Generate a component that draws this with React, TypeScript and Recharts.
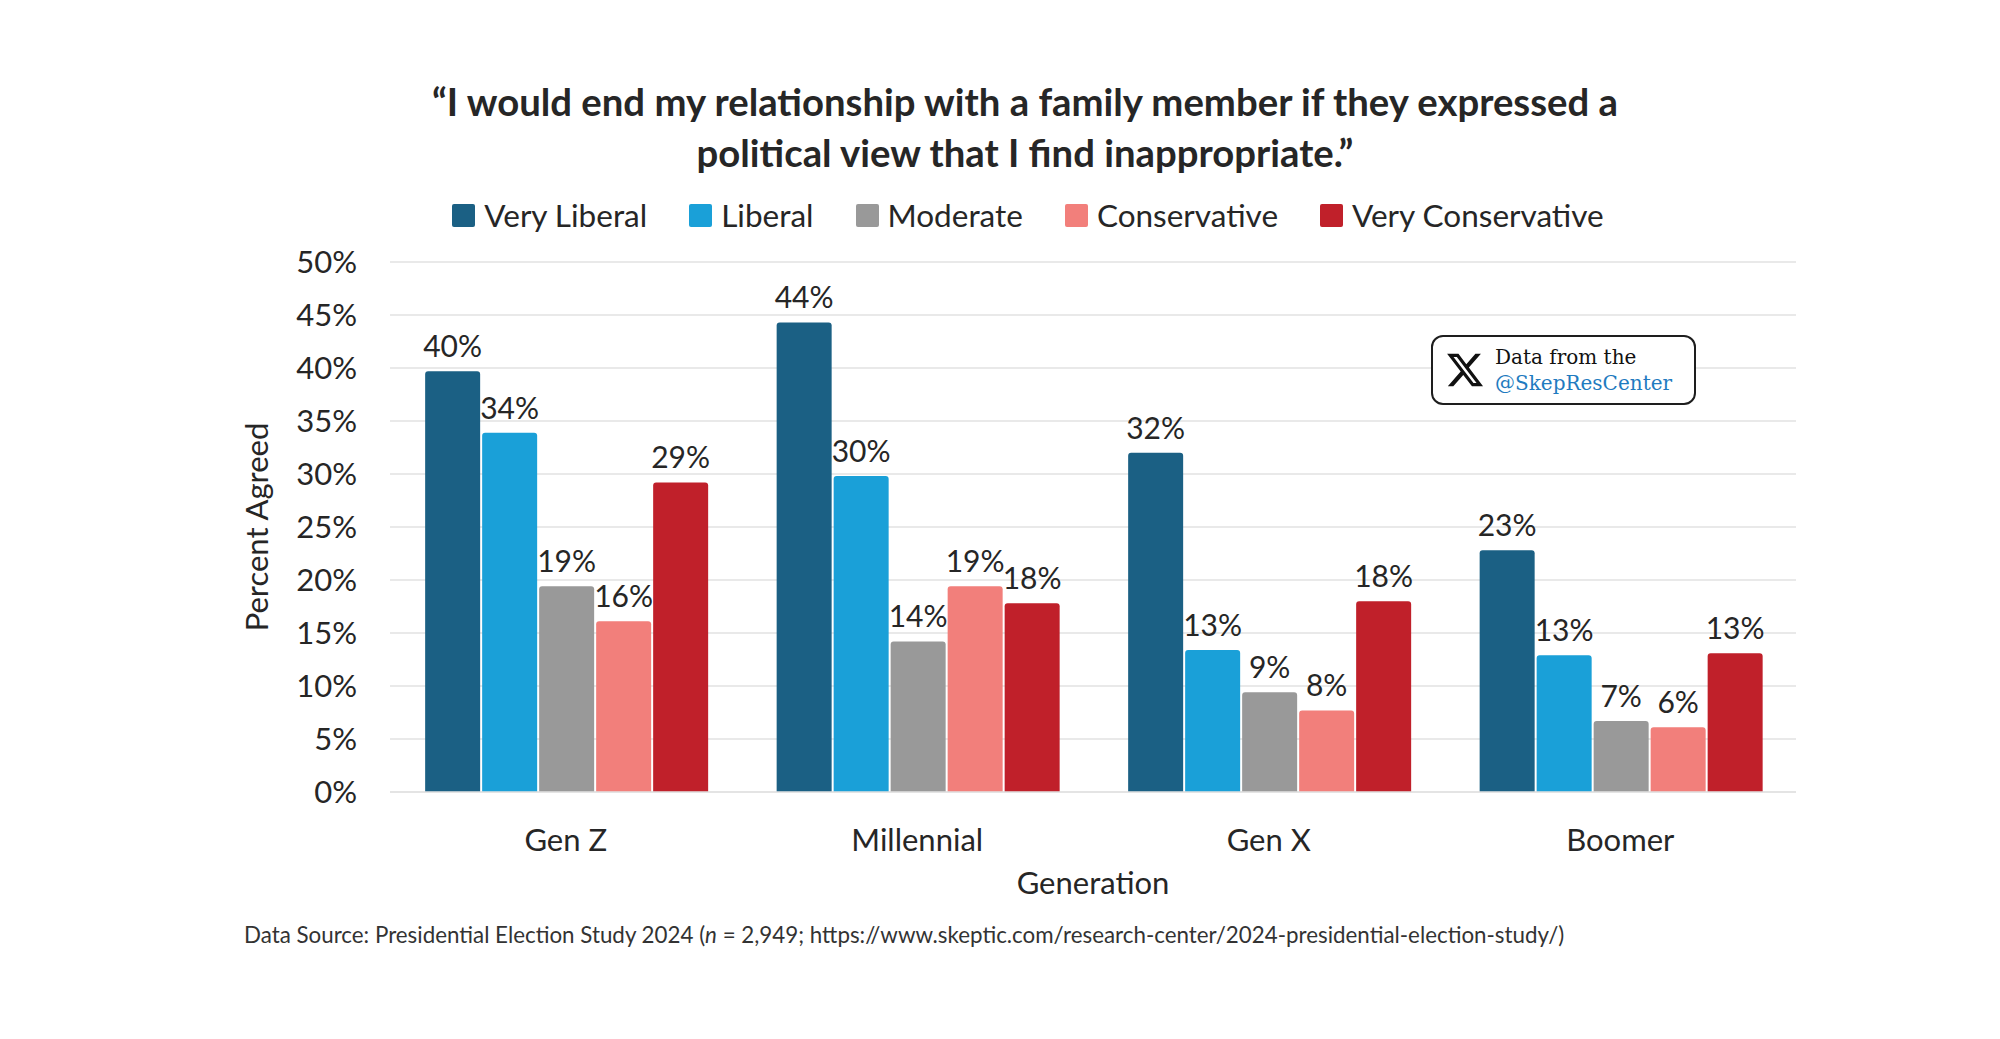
import React from 'react';
import { BarChart, Bar, XAxis, YAxis, CartesianGrid, Legend, LabelList } from 'recharts';

const generations = ['Gen Z', 'Millennial', 'Gen X', 'Boomer'];
const veryLiberal = [39.7, 44.3, 32.0, 22.8];
const liberal = [33.9, 29.8, 13.4, 12.9];
const moderate = [19.4, 14.2, 9.4, 6.7];
const conservative = [16.1, 19.4, 7.7, 6.1];
const veryConservative = [29.2, 17.8, 18.0, 13.1];
const yTicks = [0, 5, 10, 15, 20, 25, 30, 35, 40, 45, 50];

const seriesKeys = ['vl', 'l', 'm', 'c', 'vc'];
const seriesNames = ['Very Liberal', 'Liberal', 'Moderate', 'Conservative', 'Very Conservative'];
const seriesColors = ['#1b6084', '#1aa0d8', '#999999', '#f27f7b', '#c0202a'];
const seriesValues = [veryLiberal, liberal, moderate, conservative, veryConservative];

const data = generations.map((g, i) => {
  const row: Record<string, any> = { gen: g };
  seriesKeys.forEach((k, s) => {
    row[k] = seriesValues[s][i];
  });
  return row;
});

const FONT = 'Lato, "Noto Sans", sans-serif';
const TEXT = '#262626';

const renderLegend = (props: any) => {
  const payload = [...(props.payload || [])].sort(
    (a: any, b: any) => seriesNames.indexOf(a.value) - seriesNames.indexOf(b.value)
  );
  return (
    <div style={{ display: 'flex', justifyContent: 'center', gap: 42, fontFamily: FONT, fontSize: 31.5, color: TEXT, lineHeight: '31px' }}>
      {payload.map((p: any) => (
        <div key={p.value} style={{ display: 'flex', alignItems: 'center' }}>
          <span style={{ display: 'inline-block', width: 23, height: 23, background: p.color, borderRadius: 2, marginRight: 9 }} />
          <span>{p.value}</span>
        </div>
      ))}
    </div>
  );
};

const YLabel = (props: any) => {
  const vb = props.viewBox || {};
  const x = vb.x + 26;
  const y = vb.y + vb.height / 2;
  return (
    <text x={x} y={y} transform={`rotate(-90 ${x} ${y})`} textAnchor="middle" dominantBaseline="central" fill={TEXT} fontFamily={FONT} fontSize={31}>
      Percent Agreed
    </text>
  );
};

const XLabel = (props: any) => {
  const vb = props.viewBox || {};
  const x = vb.x + vb.width / 2;
  const y = vb.y + 102;
  return (
    <text x={x} y={y} textAnchor="middle" fill={TEXT} fontFamily={FONT} fontSize={31}>
      Generation
    </text>
  );
};

export default function App() {
  return (
    <div style={{ position: 'absolute', left: 0, top: 0, width: 2000, height: 1039, background: '#fff', overflow: 'hidden' }}>
      <div
        style={{
          position: 'absolute',
          left: 25,
          top: 76,
          width: 2000,
          textAlign: 'center',
          fontFamily: FONT,
          fontWeight: 700,
          fontSize: 38.3,
          lineHeight: '51px',
          color: TEXT,
        }}
      >
        “I would end my relationship with a family member if they expressed a
        <br />
        political view that I find inappropriate.”
      </div>

      <div style={{ position: 'absolute', left: 0, top: 0 }}>
        <BarChart
          width={2000}
          height={1039}
          data={data}
          margin={{ top: 262, right: 204, bottom: 197, left: 230 }}
          barCategoryGap="10%"
          barGap={2}
        >
          <CartesianGrid vertical={false} stroke="#e2e2e2" strokeWidth={1.5} />
          <XAxis
            dataKey="gen"
            height={50}
            tickLine={false}
            tickSize={0}
            tickMargin={37}
            axisLine={{ stroke: '#e2e2e2', strokeWidth: 1.5 }}
            tick={{ fill: TEXT, fontSize: 31, fontFamily: FONT }}
            label={<XLabel />}
          />
          <YAxis
            width={160}
            domain={[0, 50]}
            ticks={yTicks}
            interval={0}
            tickFormatter={(v: number) => `${v}%`}
            tickLine={false}
            tickSize={0}
            tickMargin={33}
            axisLine={false}
            tick={{ fill: TEXT, fontSize: 31, fontFamily: FONT }}
            label={<YLabel />}
          />
          <Legend
            verticalAlign="middle"
            align="center"
            layout="horizontal"
            content={renderLegend}
            wrapperStyle={{ position: 'absolute', top: 200, left: 28, width: 2000 }}
          />
          {seriesKeys.map((k, s) => (
            <Bar key={k} dataKey={k} name={seriesNames[s]} fill={seriesColors[s]} radius={[3, 3, 0, 0]} isAnimationActive={false}>
              <LabelList
                dataKey={k}
                position="top"
                offset={14}
                formatter={(v: any) => `${Math.round(Number(v))}%`}
                style={{ fill: TEXT, fontSize: 30, fontFamily: FONT }}
              />
            </Bar>
          ))}
        </BarChart>
      </div>

      <div
        style={{
          position: 'absolute',
          left: 1431,
          top: 335,
          width: 265,
          height: 70,
          boxSizing: 'border-box',
          border: '2.5px solid #1e1e1e',
          borderRadius: 12,
          background: '#fff',
          display: 'flex',
          alignItems: 'center',
        }}
      >
        <svg width={40} height={40} viewBox="0 0 24 24" style={{ marginLeft: 12, marginRight: 10 }}>
          <path
            fill="#111"
            d="M18.244 2.25h3.308l-7.227 8.26 8.502 11.24H16.17l-5.214-6.817L4.99 21.75H1.68l7.73-8.835L1.254 2.25H8.08l4.713 6.231zm-1.161 17.52h1.833L7.084 4.126H5.117z"
          />
        </svg>
        <div style={{ fontFamily: '"DejaVu Serif", "Liberation Serif", serif', fontSize: 20, lineHeight: '26px' }}>
          <div style={{ color: '#111' }}>Data from the</div>
          <div style={{ color: '#1f7bc0' }}>@SkepResCenter</div>
        </div>
      </div>

      <div
        style={{
          position: 'absolute',
          left: 244,
          top: 924,
          fontFamily: FONT,
          fontSize: 22.35,
          lineHeight: '22px',
          color: '#333',
          whiteSpace: 'nowrap',
        }}
      >
        Data Source: Presidential Election Study 2024 (<i>n</i> = 2,949; https://www.skeptic.com/research-center/2024-presidential-election-study/)
      </div>
    </div>
  );
}
